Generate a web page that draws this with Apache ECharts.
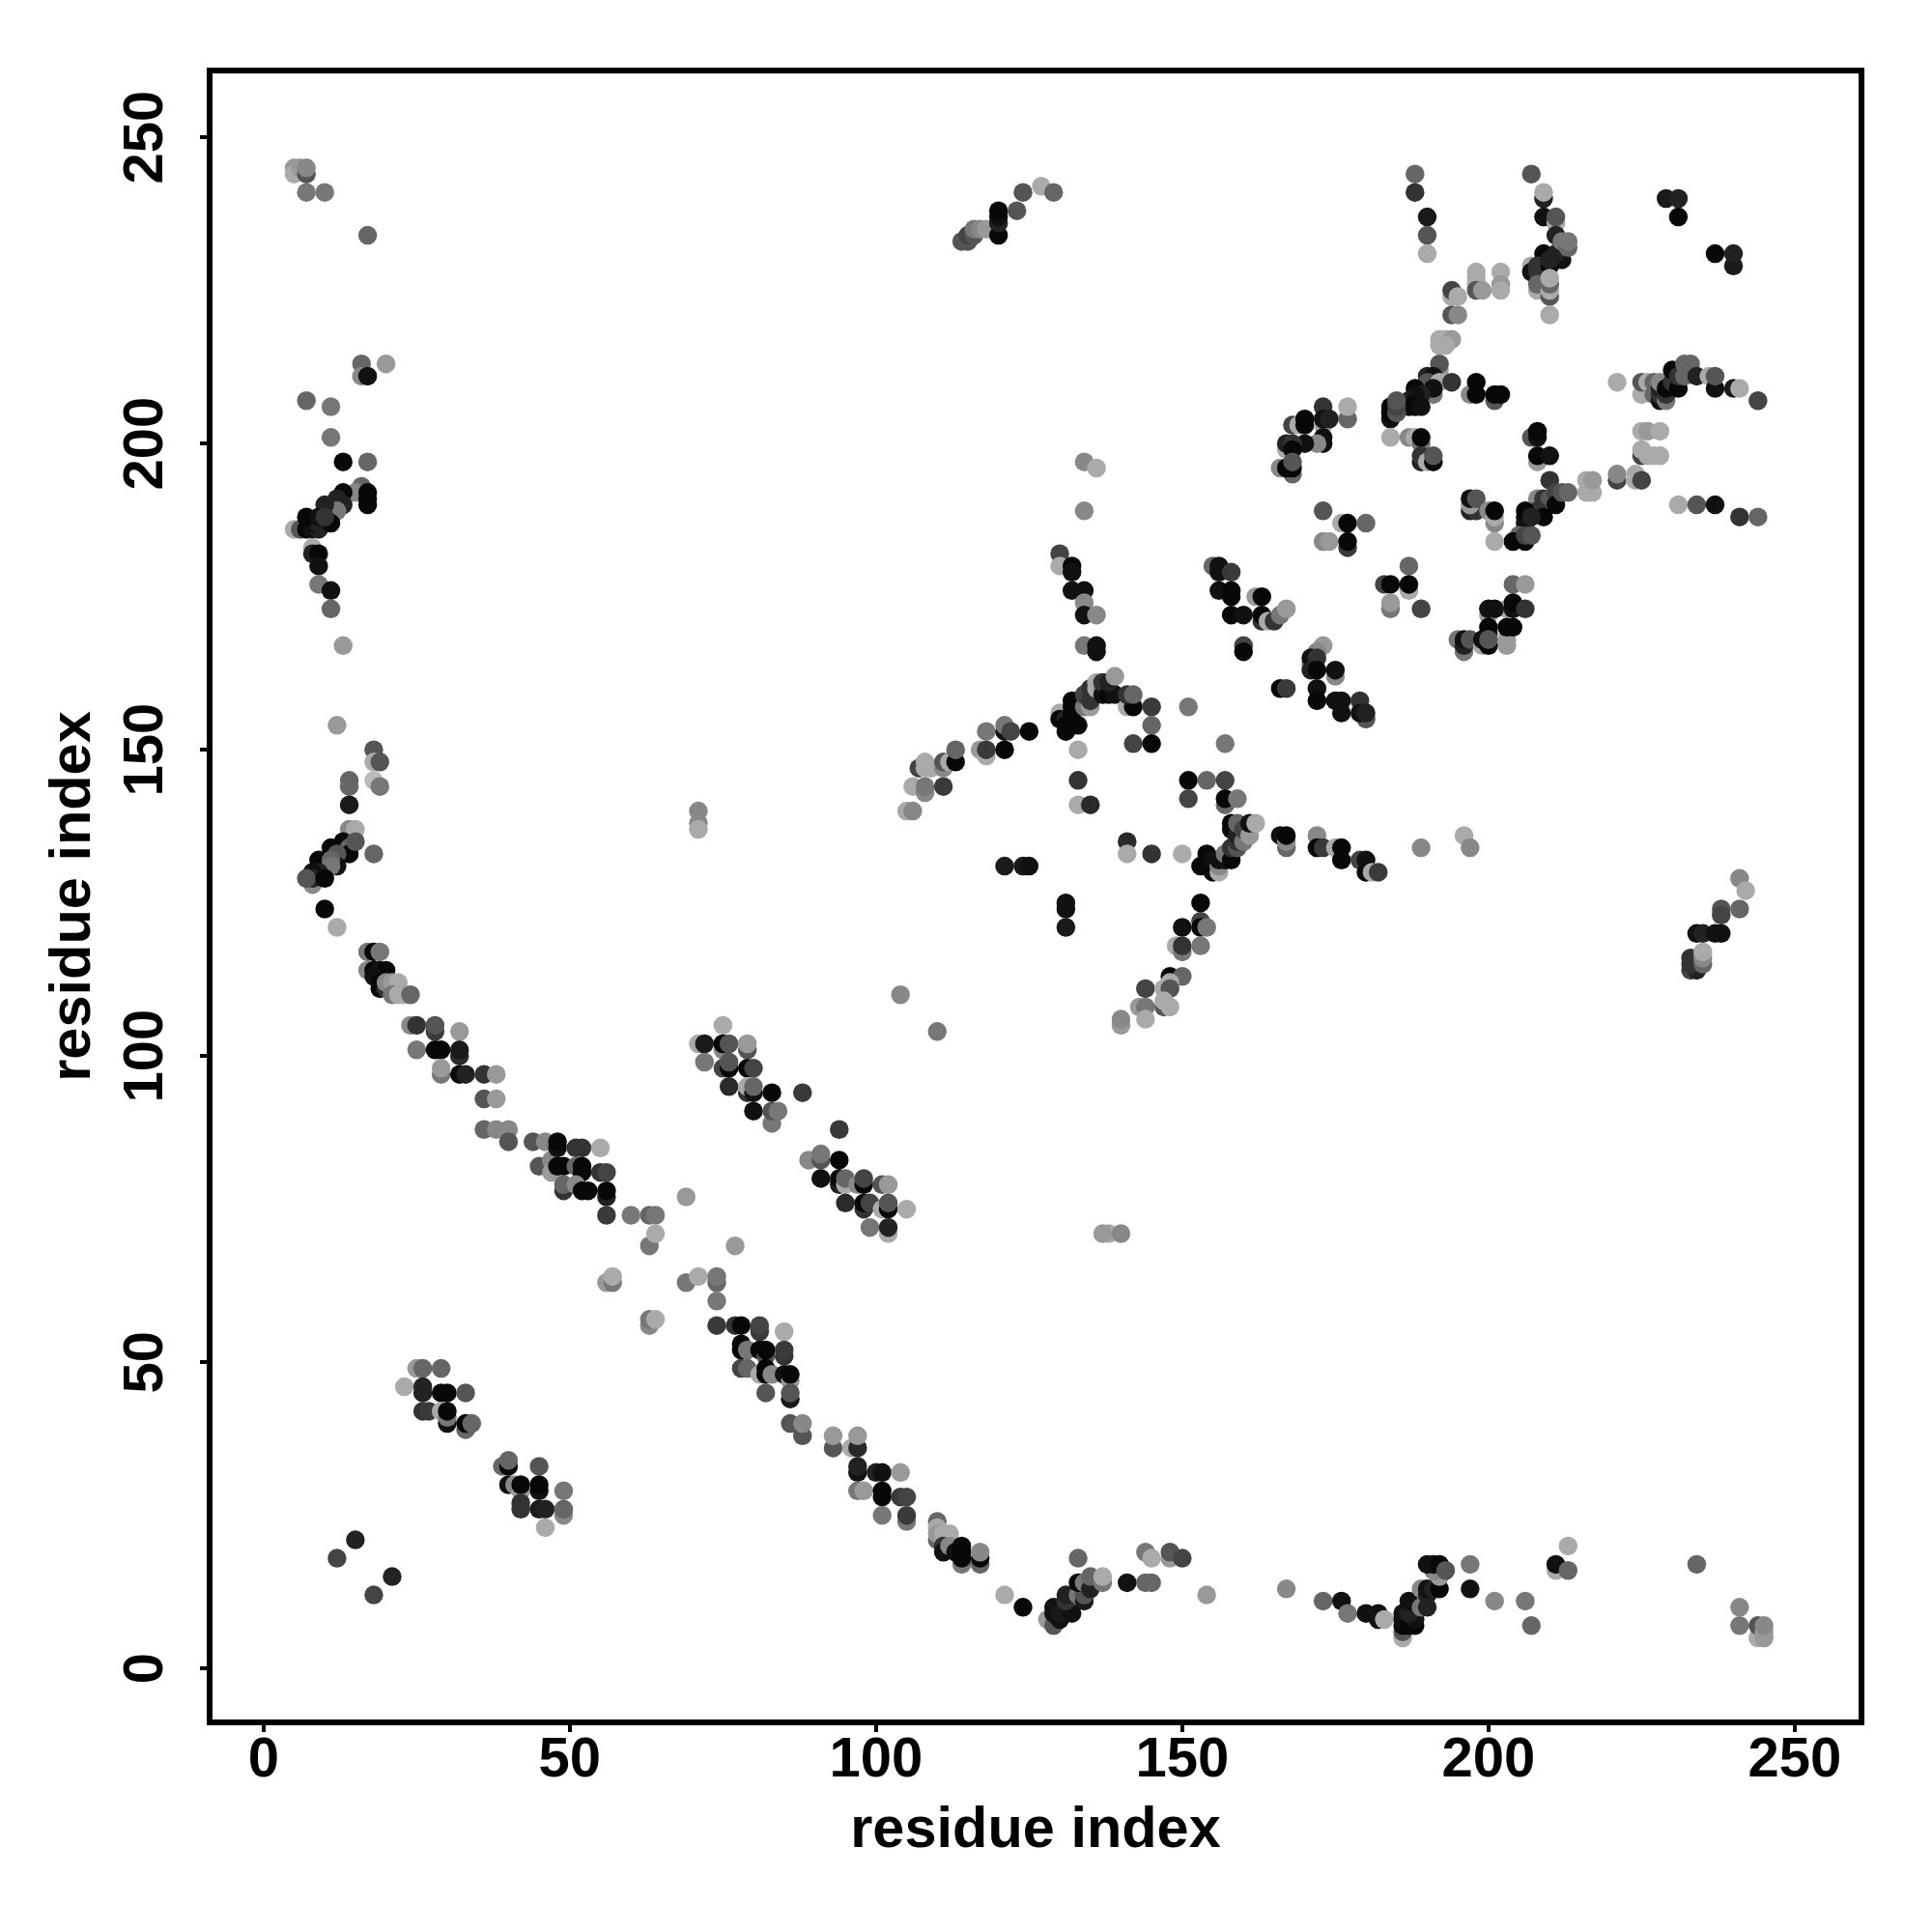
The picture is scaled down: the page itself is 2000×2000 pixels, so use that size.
<!DOCTYPE html>
<html>
<head>
<meta charset="utf-8">
<script src="https://cdn.jsdelivr.net/npm/echarts@6/dist/echarts.min.js"></script>
<style>html,body{margin:0;padding:0;background:#fff}#c{width:2000px;height:2000px}</style>
</head>
<body>
<div id="c"></div>
<script>
// each contact: [residue x, residue y, grey shade 0-255]
const nTermUpper = [[5,245,153],[5,244,170],[6,245,153],[7,244,85],[7,245,136],[7,241,119],[10,241,119],[17,234,102],
[16,213,102],[20,213,153],[16,211,136],[17,211,17],[7,207,102],[11,206,119],[11,201,119],[13,197,8],[17,197,102],
[16,193,102],[15,192,136],[17,192,8],[17,191,8],[17,190,8],[13,192,8],[12,191,34],[13,190,34],[12,189,119],[10,190,34],
[5,186,170],[6,186,85],[7,186,8],[8,186,17],[9,186,34],[8,187,17],[9,187,34],[11,187,8],[7,188,8],[9,188,17],[10,188,51],
[8,183,170],[8,182,34],[9,182,8],[9,180,17],[9,177,119],[11,176,17],[11,173,102],[13,167,153]];
const nTermMiddle = [[12,154,153],[18,150,85],[18,148,170],[19,148,85],[18,145,187],[19,144,119],[14,145,102],[14,144,102],[14,141,26],
[14,137,136],[15,137,170],[13,135,8],[14,134,102],[14,133,8],[15,135,85],[18,133,102],[11,134,8],[12,133,85],[12,131,17],[9,132,8],[11,132,102],[11,131,119],
[9,130,34],[8,130,17],[8,128,136],[8,129,34],[7,129,85],[10,129,8],[10,124,8],[12,121,170]];
const antiParallelA = [[17,117,119],[18,117,8],[19,117,119],[17,114,136],[18,114,8],[19,114,17],[20,114,8],[18,113,17],[19,112,8],[19,111,8],[20,111,51],
[20,112,136],[21,112,153],[22,112,170],[21,110,119],[22,110,170],[23,110,170],[24,110,102],
[24,105,136],[25,105,51],[28,104,58],[28,105,85],[32,104,153],[25,101,119],[28,101,8],[29,101,8],[32,100,42],[32,101,26],
[29,97,119],[29,98,153],[32,97,8],[33,97,34],[36,97,51],[38,97,153],[36,93,85],[38,93,153],[36,88,102],[38,88,136],[40,88,136],[40,86,85],[44,86,85],[46,86,136],
[45,82,85],[47,83,136],[47,81,153],[48,82,8],[49,82,8],[48,85,17],[48,86,8],[51,85,51],[52,85,51],[55,85,170],[51,82,102],[52,81,8],[52,82,8],[55,81,51],[56,81,68],
[49,78,51],[49,79,102],[51,79,136],[52,78,8],[53,78,8],[56,77,34],[56,78,8],[56,74,58],[60,74,119],[63,74,102],[64,74,119],[63,69,119],[64,71,170],[69,77,153],[77,69,153],
[56,63,153],[57,63,119],[57,64,170],[69,63,119],[71,64,170],[74,63,102],[74,64,119],[74,60,119],[63,56,136],[63,57,119],[64,57,170]];
const parallelBand = [[75,105,170],[71,102,170],[72,102,26],[75,101,136],[75,102,8],[76,102,85],[79,101,85],[79,102,153],
[72,99,119],[75,98,68],[76,98,8],[76,99,85],[79,98,8],[80,98,68],[76,95,42],[79,94,51],[79,95,170],[80,94,17],[80,95,102],[83,94,8],[88,94,58],
[80,91,17],[83,89,119],[83,91,85],[84,91,119],[94,88,58],[104,110,136],[110,104,119],
[89,83,136],[91,83,85],[91,84,119],[94,83,8],[91,80,17],[94,79,34],[94,80,8],[95,79,170],[95,80,102],[97,79,136],[98,79,8],[98,80,68],[101,79,85],[102,79,153],
[95,76,42],[98,75,51],[98,76,8],[99,76,68],[101,75,170],[102,75,8],[102,76,85],[105,75,170],[99,72,119],[102,71,170],[102,72,34],
[138,71,170],[137,71,153],[140,71,136],[71,140,136],[71,138,136],[71,137,170]];
const shortBlocks = [[25,49,153],[26,49,102],[29,49,102],[23,46,170],[26,46,34],[26,45,34],[29,45,8],[30,45,8],[33,45,85],
[26,42,51],[27,42,58],[29,42,170],[30,40,17],[30,41,119],[30,42,8],[33,39,102],[33,40,8],[34,40,102],
[39,33,102],[40,33,8],[40,34,102],[45,33,85],[40,30,17],[41,30,136],[42,29,153],[42,30,8],[45,29,17],[45,30,8],[49,29,119],
[42,27,51],[42,26,51],[45,26,26],[46,26,34],[49,25,136],[49,26,102],[46,23,170],[15,21,34],[12,18,68],[21,15,34],[18,12,68]];
const antiParallelB = [[74,56,58],[77,56,51],[78,56,8],[81,55,58],[81,56,68],[85,55,170],[78,53,8],[78,52,8],[79,52,119],[81,52,8],[82,51,85],[82,52,8],[85,51,51],[85,52,58],
[78,49,68],[79,49,102],[81,48,170],[82,49,8],[82,48,8],[83,48,136],[85,48,17],[86,47,153],[86,48,8],[86,44,26],[86,45,85],[82,45,85],
[86,40,85],[88,38,85],[88,40,136],[93,36,85],[93,38,153],[96,36,170],[97,36,42],[97,38,153],
[97,32,17],[97,33,34],[100,32,34],[101,32,17],[104,32,153],[97,29,119],[98,29,153],[101,28,8],[101,29,8],[104,28,58],[105,28,68],[101,25,119],[105,24,119],[105,25,58],
[110,24,102],[110,21,102],[110,23,170],[110,22,153],[111,22,170],[112,22,170],[111,20,51],[111,19,17],[112,20,136],[113,19,17],[114,17,119],[114,20,8],[114,19,8],[114,18,8],
[117,17,102],[117,18,8],[117,19,136],[121,12,170],[124,10,8]];
const lowerRight = [[128,8,153],[129,7,85],[129,9,17],[129,10,17],[130,8,17],[130,9,26],[132,9,17],[131,11,51],[131,12,34],[133,12,119],[134,11,26],[134,12,85],[133,14,8],[134,14,119],[135,13,34],[135,15,102],[137,14,119],[137,15,170],[133,18,102],
[141,14,17],[144,14,102],[145,14,102],[144,19,119],[145,18,170],[148,18,153],[148,19,85],[150,18,68],[154,12,153],
[167,13,136],[173,11,102],[176,11,17],[177,9,119],[180,9,17],[182,9,17],[182,8,17],[183,8,170],
[186,5,170],[186,6,85],[186,7,8],[186,8,17],[186,9,17],[187,7,8],[188,7,8],[188,8,17],[187,9,34],[187,11,17],[189,10,119],[190,10,34],[189,13,136],[190,12,34],[190,13,17],[191,13,34],[192,13,8],
[192,15,153],[191,16,136],[190,17,17],[191,17,17],[192,17,8],[193,16,85],[197,13,17],[197,17,119],[201,11,136],[206,11,119],[207,7,102],
[211,16,170],[211,17,17],[213,16,102],[213,20,170],[234,17,102],[241,7,119],[241,10,136],[244,5,170],[245,5,153],[244,7,85],[245,6,153],[245,7,136]];
const centreArc = [[105,140,170],[106,140,136],[106,144,170],[108,143,136],[108,144,119],[111,144,58],[107,147,68],[108,147,170],[108,148,170],[109,147,170],[111,147,136],[111,148,85],[112,148,170],[113,148,8],[113,150,102],
[117,150,153],[118,149,170],[118,150,58],[121,150,8],[118,153,119],[121,153,17],[121,154,119],[122,153,68],[125,153,8],
[130,156,170],[130,155,8],[131,155,34],[131,154,8],[131,153,8],[132,154,8],[133,154,8],[132,156,8],[132,157,8],[132,158,8],[134,157,119],[135,157,153],[134,159,68],[135,158,51],[135,160,51],[136,160,170],[136,161,170],[137,160,136],[137,159,17],[137,161,51],[138,159,8],[139,159,17],[138,161,34],[139,162,153],
[141,157,170],[142,157,8],[141,159,51],[142,159,102],[145,157,58],[151,157,119],[145,154,102],[142,151,68],[145,151,8],[157,151,119],[133,150,170],
[133,145,51],[133,141,170],[135,141,42],[151,145,8],[154,145,102],[157,145,68],[151,142,68],[157,141,102],[157,142,8],[159,142,119],
[141,135,42],[141,133,170],[145,133,51],[150,133,170],[121,131,26],[124,131,26],[125,131,17],[131,125,17],[131,124,17],[131,121,26]];
const centreCross = [[153,131,8],[154,133,8],[155,130,8],[155,132,17],[156,130,170],[156,131,136],[156,132,17],[157,132,17],[157,133,119],[158,132,8],[158,134,51],[158,137,17],[158,138,8],[159,134,85],[159,135,51],[159,136,34],[159,138,102],[160,135,119],[160,137,68],[161,136,153],[161,138,17],[162,138,170],
[166,136,17],[167,134,102],[167,135,136],[167,136,8],[172,136,136],[172,134,8],[173,134,58],[175,134,170],[176,132,8],[176,134,8],[179,132,68],[180,130,8],[180,132,17],[181,130,170],[182,130,58],[189,134,136],[196,136,170],[197,134,136],
[153,125,8],[153,122,68],[153,121,8],[154,121,119],[150,121,17],[149,118,170],[150,117,119],[150,118,51],[153,118,119],[148,113,8],[150,113,102],[144,111,68],[147,111,170],[148,112,170],[148,111,85],[147,108,85],[147,109,170],[148,108,170],[143,108,153],[144,108,119],[144,106,170],[140,105,153],[140,106,136]];
const helixFan = [[130,182,68],[130,180,170],[132,180,8],[132,179,17],[132,176,17],[134,176,17],[134,174,136],[134,172,17],[136,172,136],[134,167,119],[136,167,17],[136,166,17],[134,197,136],[136,196,170],[134,189,136],
[155,180,102],[156,180,17],[156,179,17],[158,179,58],[156,176,17],[158,175,8],[158,176,8],[162,175,153],[163,175,8],[158,172,8],[160,172,17],[163,171,51],[163,172,8],[164,171,170],[165,171,51],[166,172,119],[167,173,153],
[160,167,68],[160,166,8],[166,160,8],[167,160,58],[173,167,153],[172,166,136],[171,164,136],[171,165,17],[172,165,51],[175,162,136],[175,163,17],[171,163,34],[172,163,8],[172,160,17],[172,158,8],[175,158,17],[176,158,17],[176,156,17],[179,158,51],[180,155,85],[179,156,17],[180,156,34]];
const upperHairpin = [[173,206,51],[177,204,102],[177,206,170],[168,203,68],[169,203,170],[170,204,8],[170,203,8],[173,203,170],[173,204,17],[174,204,34],[173,200,17],[173,201,17],[172,200,136],[170,200,17],[167,199,170],[167,200,34],[168,200,51],[168,199,8],
[168,195,102],[166,196,136],[167,196,8],[168,196,8],[168,197,85],[173,189,85],[176,187,170],[177,187,8],[180,187,102],[173,184,136],[174,184,153],[177,183,58],[177,184,8],
[187,180,102],[183,177,68],[184,177,8],[187,176,170],[187,177,8],[184,173,119],[184,174,153],[189,173,68],
[192,217,170],[193,217,170],[194,217,153],[192,216,170],[193,216,170],[192,212,153],[192,213,85],[190,211,34],[191,211,17],[190,210,85],[192,210,170],[194,210,51],[191,208,119],[191,209,17],
[188,209,8],[189,208,34],[188,208,17],[187,207,34],[188,207,17],[187,206,8],[188,206,8],[189,206,17],[184,204,17],[184,205,8],[184,206,8],[185,205,85],[185,206,68],[185,207,85],
[197,208,136],[198,208,8],[198,210,8],[201,207,85],[201,208,8],[202,208,8],[184,201,170],[187,201,136],[188,201,170],[189,200,119],[189,201,8],[189,197,34],[189,198,51],[190,197,170],[191,197,8],[191,198,85],
[207,201,85],[208,201,17],[208,202,8],[208,197,153],[208,198,8],[210,198,17],
[210,194,51],[208,191,136],[209,191,51],[210,191,85],[211,192,68],[211,190,8],[212,192,85],[213,192,102],[208,189,51],[209,188,8],[206,187,17],[206,188,17],[206,189,8],[207,188,34],[205,185,102],[204,184,8],[206,184,8],[206,185,68],[207,185,85],
[197,189,34],[198,189,51],[197,190,153],[197,191,17],[198,191,85],[200,189,136],[201,187,136],[201,188,170],[201,189,8],[201,184,170],
[216,192,170],[216,194,170],[217,192,170],[217,194,153],[204,177,102],[206,177,153],[203,173,170],[204,173,17],[204,174,8],[206,173,51],[200,172,153],[200,173,17],[201,173,17],[200,169,34],[200,170,8],[203,167,153],[203,168,153],[203,170,8],[204,170,8],
[195,168,119],[196,166,119],[196,167,34],[196,168,17],[197,168,85],[199,167,170],[199,168,17],[200,167,8],[200,168,85]];
const upperRight = [[188,244,102],[188,241,51],[190,237,26],[190,234,85],[190,231,170],[194,224,170],[194,225,68],[195,224,170],[194,221,85],[195,221,136],
[198,228,170],[198,227,170],[198,226,170],[198,225,85],[199,225,153],[202,228,170],[202,226,153],[202,225,170],
[207,244,85],[209,240,34],[209,241,170],[209,237,17],[211,236,170],[211,237,85],[211,234,34],[212,230,17],[209,231,8],[211,231,34],[212,233,119],[213,232,102],[213,233,119],
[207,229,170],[207,228,17],[208,228,51],[208,229,51],[210,229,8],[210,230,34],[208,225,170],[208,226,102],[210,224,85],[210,225,170],[210,226,102],[210,227,170],[210,221,170],
[229,240,26],[231,240,34],[231,237,8],[237,231,8],[240,229,26],[240,231,34],
[114,233,85],[115,233,85],[115,234,68],[116,234,85],[116,235,119],[117,235,136],[118,235,153],[120,234,8],[120,236,34],[120,237,17],[120,238,8],[123,238,85],[124,241,85],[127,242,170],[129,241,102]];
const rightSheet = [[221,210,170],[225,208,170],[225,210,85],[226,210,170],[227,208,102],[227,210,102],[228,207,17],[228,208,51],[228,209,34],[228,210,136],[229,207,119],[229,208,51],[229,209,8],[230,210,51],[230,212,8],[231,209,8],[231,211,51],[232,211,102],[232,213,102],[233,213,102],[234,211,34],[236,211,170],[237,209,17],[237,211,85],[240,209,26],[241,209,170],[244,207,68],
[225,202,170],[226,202,153],[228,202,170],[225,198,68],[225,199,170],[226,198,170],[227,198,170],[228,198,170],[221,194,68],[221,195,136],[224,194,170],[224,195,170],[225,194,68],
[231,190,170],[234,190,85],[237,190,17],[241,188,51],[244,188,102],
[241,129,136],[242,127,170],[238,124,85],[241,124,102],[238,123,68],[234,120,17],[235,120,34],[237,120,17],[238,120,17],[233,114,68],[234,114,34],[233,115,51],[233,116,51],[235,115,102],[235,116,136],[235,117,170]];
const clusters = [nTermUpper, nTermMiddle, antiParallelA, parallelBand, shortBlocks, antiParallelB, lowerRight, centreArc, centreCross, helixFan, upperHairpin, upperRight, rightSheet];
const tickValues = [0, 50, 100, 150, 200, 250];
const axisTitle = 'residue index';

const chart = echarts.init(document.getElementById('c'), null, {renderer: 'canvas'});
const font = '"Liberation Sans", Arial, sans-serif';
function axis(extra, labelExtra) {
  return Object.assign({
    type: 'value', min: -8.8, max: 260.9, name: axisTitle, nameLocation: 'middle',
    nameTextStyle: {fontFamily: font, fontWeight: 'bold', fontSize: 59.5, color: '#000'},
    splitLine: {show: false},
    axisLine: {show: false, onZero: false},
    axisTick: {show: true, inside: false, length: 10, lineStyle: {color: '#000', width: 4}, customValues: tickValues},
    axisLabel: Object.assign({fontFamily: font, fontWeight: 'bold', fontSize: 58, color: '#000', customValues: tickValues}, labelExtra)
  }, extra);
}
chart.setOption({
  animation: false,
  backgroundColor: '#fff',
  grid: {left: 217, top: 73, width: 1710, height: 1710, show: true, borderColor: '#000', borderWidth: 6, backgroundColor: 'transparent'},
  xAxis: axis({nameGap: 83}, {margin: 11}),
  yAxis: axis({nameGap: 110}, {margin: 36, rotate: 90}),
  series: [{
    type: 'scatter', symbol: 'circle', symbolSize: 19.5,
    data: clusters.flat(),
    itemStyle: {color: p => { const g = p.value[2]; return 'rgb(' + g + ',' + g + ',' + g + ')'; }, opacity: 1}
  }]
});
</script>
</body>
</html>
